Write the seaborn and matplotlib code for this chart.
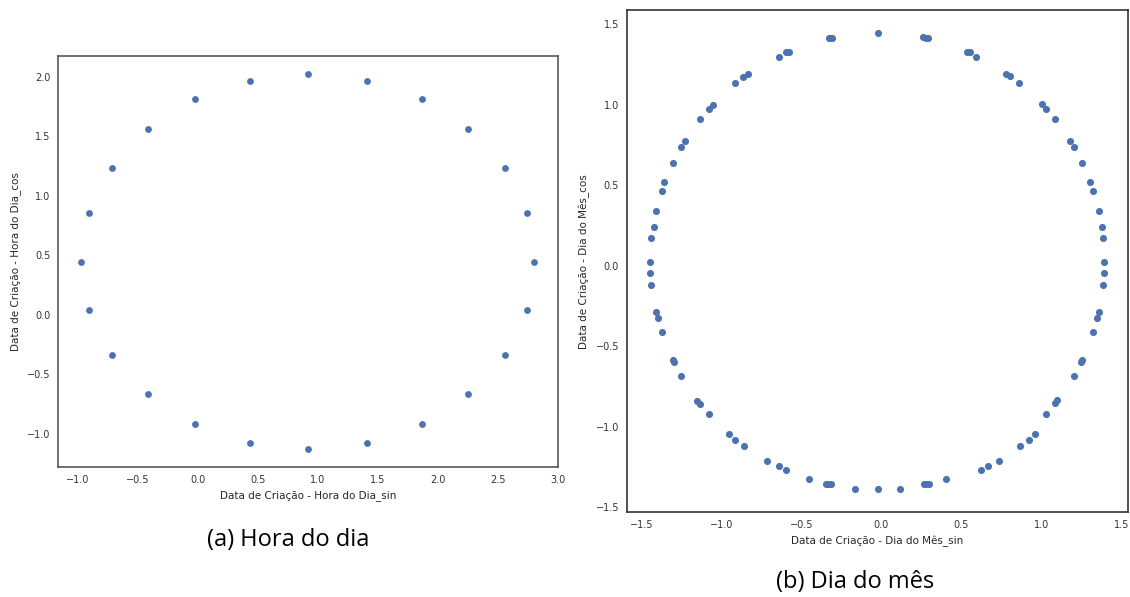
import matplotlib
matplotlib.use("Agg")
import matplotlib.pyplot as plt
import seaborn as sns
import pandas as pd

# (a) hora do dia - sin / cos
hora_sin = [0.917, 1.41, 1.864, 2.253, 2.558, 2.744, 2.803, 2.744, 2.558, 2.253, 1.864, 1.41,
            0.917, 0.431, -0.022, -0.419, -0.72, -0.906, -0.975, -0.906, -0.72, -0.419, -0.022, 0.431]
hora_cos = [2.019, 1.966, 1.81, 1.56, 1.23, 0.855, 0.448, 0.042, -0.335, -0.667, -0.916, -1.073,
            -1.126, -1.073, -0.916, -0.667, -0.335, 0.042, 0.448, 0.855, 1.23, 1.56, 1.81, 1.966]

# (b) dia do mes - sin / cos
dia_sin = [-0.024, -0.33, -0.32, -0.31, 0.26, 0.275, 0.29,
           -0.64, -0.597, -0.58, 0.532, 0.553, 0.589,
           -0.914, -0.864, -0.836, 0.78, 0.805, 0.861,
           -1.136, -1.078, -1.055, 1.005, 1.028, 1.086,
           -1.25, -1.228, -1.30, 1.178, 1.201, 1.253,
           -1.374, -1.357, -1.408, 1.303, 1.324, 1.357,
           -1.424, -1.439, 1.38, 1.386,
           -1.445, -1.445, -1.439, 1.393, 1.393, 1.386,
           -1.408, -1.395, -1.374, 1.357, 1.345, 1.324,
           -1.303, -1.297, -1.252, 1.251, 1.247, 1.201,
           -1.151, -1.136, -1.078, 1.094, 1.086, 1.028,
           -0.953, -0.914, -0.859, 0.961, 0.92, 0.868,
           -0.716, -0.64, -0.599, 0.736, 0.663, 0.62,
           -0.451, 0.4,
           -0.347, -0.332, -0.318, 0.265, 0.28, 0.295,
           -0.168, -0.022, 0.116]
dia_cos = [1.445, 1.414, 1.414, 1.416, 1.42, 1.418, 1.416,
           1.30, 1.327, 1.33, 1.332, 1.327, 1.30,
           1.135, 1.176, 1.19, 1.194, 1.18, 1.135,
           0.911, 0.973, 1.002, 1.005, 0.973, 0.911,
           0.739, 0.778, 0.642, 0.778, 0.739, 0.64,
           0.468, 0.52, 0.342, 0.52, 0.468, 0.342,
           0.244, 0.174, 0.244, 0.176,
           0.025, -0.045, -0.118, 0.025, -0.043, -0.118,
           -0.284, -0.325, -0.412, -0.284, -0.325, -0.41,
           -0.584, -0.596, -0.681, -0.584, -0.596, -0.681,
           -0.837, -0.855, -0.917, -0.835, -0.853, -0.917,
           -1.043, -1.079, -1.118, -1.043, -1.079, -1.118,
           -1.209, -1.242, -1.267, -1.209, -1.244, -1.267,
           -1.325, -1.325,
           -1.352, -1.352, -1.352, -1.354, -1.354, -1.354,
           -1.383, -1.387, -1.383]

df_hora = pd.DataFrame({"sin": hora_sin, "cos": hora_cos})
df_dia = pd.DataFrame({"sin": dia_sin, "cos": dia_cos})

sns.set_style("white")
plt.rcParams['font.family'] = ['DejaVu Sans']

fig = plt.figure(figsize=(11.3, 5.97), dpi=100)
ax1 = fig.add_axes([0.0513, 0.2178, 0.4425, 0.6884])
ax2 = fig.add_axes([0.5546, 0.1419, 0.4436, 0.8414])

cor = "#4c72b0"
sns.scatterplot(data=df_hora, x="sin", y="cos", ax=ax1, color=cor, s=24, linewidth=0)
sns.scatterplot(data=df_dia, x="sin", y="cos", ax=ax2, color=cor, s=26, linewidth=0)

ax1.set_xlim(-1.167, 3.0)
ax1.set_ylim(-1.277, 2.174)
ax2.set_xlim(-1.592, 1.54)
ax2.set_ylim(-1.53, 1.59)

ax1.set_xlabel("Data de Criação - Hora do Dia_sin", fontsize=7.5, color=".15")
ax1.set_ylabel("Data de Criação - Hora do Dia_cos", fontsize=7.5, color=".15")
ax2.set_xlabel("Data de Criação - Dia do Mês_sin", fontsize=7.5, color=".15")
ax2.set_ylabel("Data de Criação - Dia do Mês_cos", fontsize=7.5, color=".15")

for ax in (ax1, ax2):
    ax.tick_params(labelsize=7, colors=".2", pad=2)
    for sp in ax.spines.values():
        sp.set_linewidth(1.2)
for sp in ax1.spines.values():
    sp.set_color(".35")
for sp in ax2.spines.values():
    sp.set_color(".2")

fig.text(288 / 1130, 1 - 540 / 597, "(a) Hora do dia", fontsize=17, family="Open Sans",
         ha="center", va="center", color="black")
fig.text(855 / 1130, 1 - 582 / 597, "(b) Dia do mês", fontsize=17, family="Open Sans",
         ha="center", va="center", color="black")

fig.savefig("out.png", dpi=100)
